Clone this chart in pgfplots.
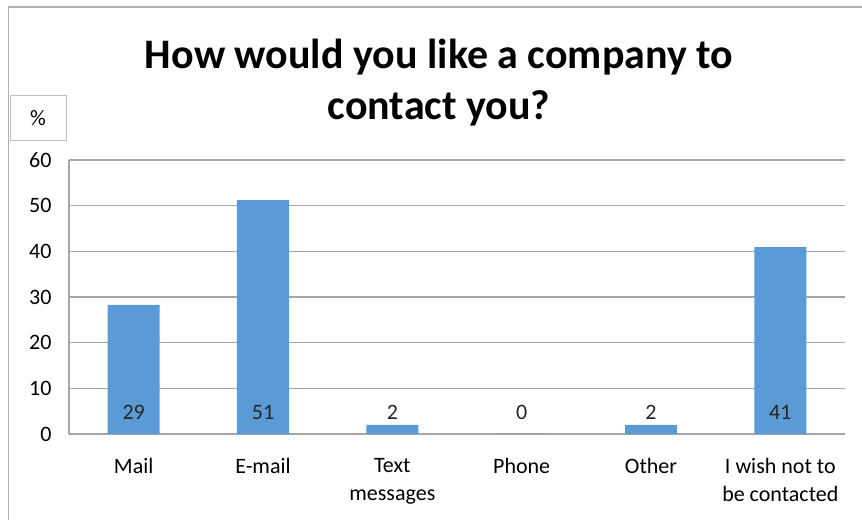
\documentclass[border=0pt]{standalone}
\usepackage{pgfplots}
\pgfplotsset{compat=1.18}
\usepackage{fontspec}
\setmainfont{Carlito}
\definecolor{barblue}{HTML}{5B9BD5}
\definecolor{gridgray}{HTML}{A6A6A6}
\begin{document}
\begin{tikzpicture}[x=1pt,y=1pt]
\useasboundingbox (0,0) rectangle (862,520);
\draw[gray!60, line width=1pt] (8,0) -- (8,513);
\draw[gray!60, line width=1.5pt] (8,513) -- (862,513);
\node[draw=gray!50, line width=1pt, minimum width=56pt, minimum height=45pt, inner sep=0pt, font=\fontsize{22}{24}\selectfont] at (38,402) {\%};
\node[align=center, font=\bfseries\fontsize{42}{51}\selectfont] at (439,437) {How would you like a company to\\contact you?};
\begin{axis}[
  at={(69pt,86pt)}, anchor=south west,
  scale only axis, width=776pt, height=274pt,
  xmin=-0.5, xmax=5.5, ymin=0, ymax=60,
  ytick={0,10,...,60},
  xtick={0,...,5},
  xticklabels={Mail,E-mail,{Text\\messages},Phone,Other,{I wish not to\\be contacted}},
  xticklabel style={align=center, font=\fontsize{22}{28}\selectfont, text depth=0pt},
  yticklabel style={font=\fontsize{22}{24}\selectfont},
  /pgf/number format/assume math mode=true,
  major tick length=0pt,
  ymajorgrids, grid style={gridgray, line width=1.3pt},
  axis x line*=bottom, axis y line*=left,
  axis line style={gridgray, line width=1.3pt},
  xtick pos=bottom, ytick pos=left,
  xticklabel shift=21pt, yticklabel shift=14pt,
  clip=false,
]
\addplot[ybar, bar width=52pt, bar shift=0pt, fill=barblue, draw=none] coordinates {(0,28.3) (1,51.2) (2,2) (3,0) (4,2) (5,40.9)};
\addplot[only marks, mark=none, nodes near coords, point meta=explicit symbolic,
  nodes near coords style={anchor=center, yshift=22pt, font=\fontsize{22}{24}\selectfont, text=black!85}]
  coordinates {(0,0) [29] (1,0) [51] (2,0) [2] (3,0) [0] (4,0) [2] (5,0) [41]};
\end{axis}
\end{tikzpicture}
\end{document}
